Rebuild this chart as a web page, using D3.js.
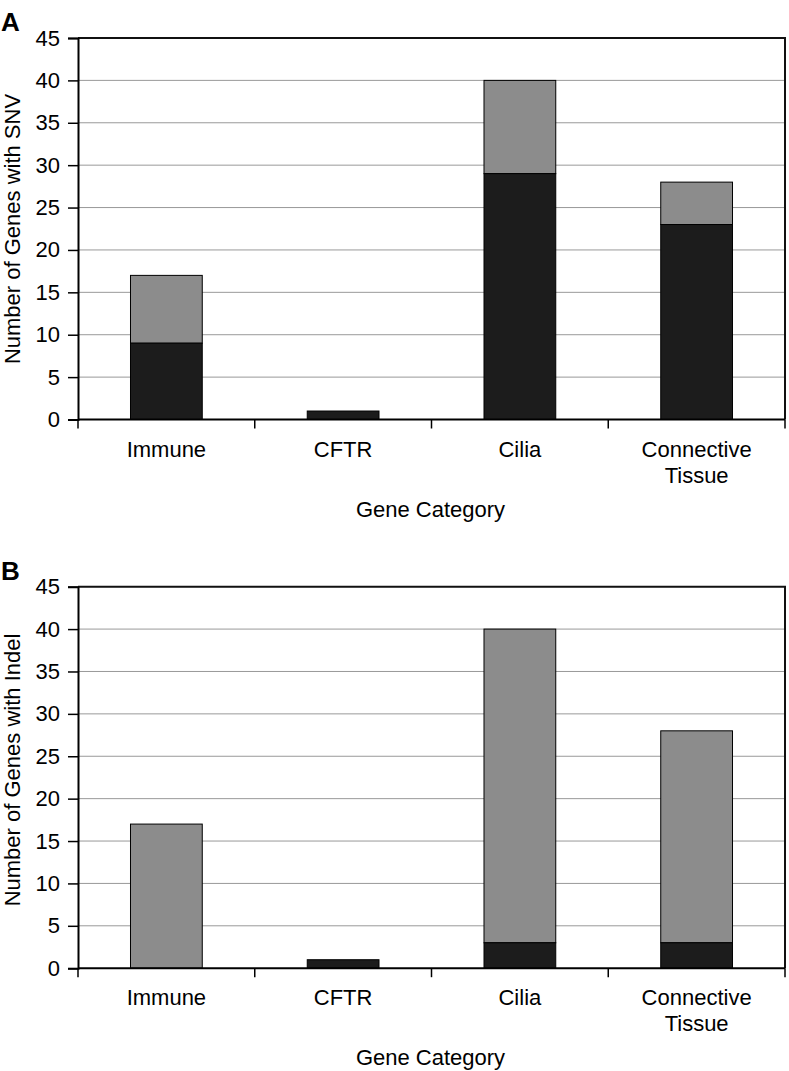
<!DOCTYPE html>
<html>
<head>
<meta charset="utf-8">
<script src="https://cdn.jsdelivr.net/npm/d3@7"></script>
<style>
  body { margin: 0; background: #fff; }
  text { font-family: "Liberation Sans", Arial, Helvetica, sans-serif; }
</style>
</head>
<body>
<svg width="789" height="1071"></svg>
<script>
// data
var categories = ["Immune", "CFTR", "Cilia", "Connective Tissue"];
var snvBlack = [9, 1, 29, 23];     // lower (dark) segment, panel A
var snvGray = [8, 0, 11, 5];       // upper (gray) segment, panel A
var indelBlack = [0, 1, 3, 3];     // lower (dark) segment, panel B
var indelGray = [17, 0, 37, 25];   // upper (gray) segment, panel B
var yTicks = [0, 5, 10, 15, 20, 25, 30, 35, 40, 45];
var xTitle = "Gene Category";

var svg = d3.select("svg");

var left = 78, right = 785, plotH = 381.5;

var x = d3.scaleBand()
  .domain(categories)
  .range([left, right])
  .paddingInner(0.594)
  .paddingOuter(0.297);

function drawPanel(letter, ylabel, blacks, grays, top, labelMid) {
  var g = svg.append("g");
  var y = d3.scaleLinear().domain([0, 45]).range([top + plotH, top]);

  // gridlines
  g.selectAll(".grid")
    .data(yTicks.filter(function(d) { return d > 0 && d < 45; }))
    .join("line")
    .attr("x1", left).attr("x2", right)
    .attr("y1", function(d) { return y(d); })
    .attr("y2", function(d) { return y(d); })
    .attr("stroke", "#999")
    .attr("stroke-width", 1);

  // stacked bars
  var rows = categories.map(function(c, i) {
    return { cat: c, black: blacks[i], gray: grays[i] };
  });
  g.selectAll(".gray")
    .data(rows.filter(function(d) { return d.gray > 0; }))
    .join("rect")
    .attr("x", function(d) { return x(d.cat); })
    .attr("width", x.bandwidth())
    .attr("y", function(d) { return y(d.black + d.gray); })
    .attr("height", function(d) { return y(d.black) - y(d.black + d.gray); })
    .attr("fill", "#8c8c8c")
    .attr("stroke", "#000")
    .attr("stroke-width", 1);
  g.selectAll(".black")
    .data(rows.filter(function(d) { return d.black > 0; }))
    .join("rect")
    .attr("x", function(d) { return x(d.cat); })
    .attr("width", x.bandwidth())
    .attr("y", function(d) { return y(d.black); })
    .attr("height", function(d) { return y(0) - y(d.black); })
    .attr("fill", "#1c1c1c")
    .attr("stroke", "#000")
    .attr("stroke-width", 1);

  // frame top + right
  g.append("path")
    .attr("d", "M" + left + "," + y(45) + "H" + right + "V" + y(0))
    .attr("fill", "none")
    .attr("stroke", "#111")
    .attr("stroke-width", 2);

  // y axis
  var yAxis = g.append("g")
    .attr("transform", "translate(" + left + ",0)")
    .call(d3.axisLeft(y).tickValues(yTicks).tickSize(10).tickPadding(8));
  yAxis.select(".domain").attr("stroke-width", 2);
  yAxis.selectAll(".tick line").attr("stroke-width", 1.5);
  yAxis.selectAll("text")
    .attr("font-size", 22)
    .attr("fill", "#000")
    .style("font-family", '"Liberation Sans", Arial, sans-serif');

  // x axis line and boundary ticks
  g.append("line")
    .attr("x1", left).attr("x2", right)
    .attr("y1", y(0)).attr("y2", y(0))
    .attr("stroke", "#000").attr("stroke-width", 2);
  var bounds = categories.map(function(c) {
    return x(c) - x.step() * x.paddingInner() / 2;
  }).concat([right]);
  g.selectAll(".xtick")
    .data(bounds)
    .join("line")
    .attr("x1", function(d) { return d; })
    .attr("x2", function(d) { return d; })
    .attr("y1", y(0)).attr("y2", y(0) + 9)
    .attr("stroke", "#000").attr("stroke-width", 1.5);

  // category labels (wrapped)
  var labels = g.selectAll(".xlab")
    .data(categories)
    .join("text")
    .attr("text-anchor", "middle")
    .attr("font-size", 22)
    .attr("x", function(d) { return x(d) + x.bandwidth() / 2; })
    .attr("y", y(0) + 37);
  labels.each(function(d) {
    var t = d3.select(this);
    var words = d.split(" ");
    if (words.length > 1) {
      words.forEach(function(w, i) {
        t.append("tspan")
          .attr("x", x(d) + x.bandwidth() / 2)
          .attr("dy", i === 0 ? 0 : 26)
          .text(w);
      });
    } else {
      t.text(d);
    }
  });

  // axis titles
  g.append("text")
    .attr("text-anchor", "middle")
    .attr("font-size", 22)
    .attr("x", (left + right) / 2 - 1)
    .attr("y", y(0) + 97)
    .text(xTitle);
  g.append("text")
    .attr("text-anchor", "middle")
    .attr("font-size", 22)
    .attr("transform", "translate(20," + labelMid + ") rotate(-90)")
    .text(ylabel);

  // panel letter
  g.append("text")
    .attr("x", 1)
    .attr("y", top - 7)
    .attr("font-size", 26)
    .attr("font-weight", "bold")
    .text(letter);
}

drawPanel("A", "Number of Genes with SNV", snvBlack, snvGray, 38, 229);
drawPanel("B", "Number of Genes with Indel", indelBlack, indelGray, 586.7, 770);
</script>
</body>
</html>
